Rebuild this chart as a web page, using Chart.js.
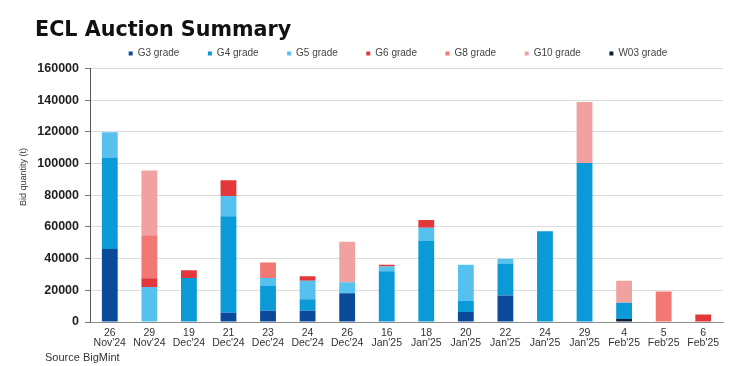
<!DOCTYPE html>
<html>
<head>
<meta charset="utf-8">
<script src="https://cdn.jsdelivr.net/npm/chart.js@4.4.1/dist/chart.umd.min.js"></script>
<style>
  html, body { margin: 0; padding: 0; background: #fff; }
  #wrap { position: relative; width: 750px; height: 366px; overflow: hidden; }
  #c { position: absolute; left: 0; top: 0; }
  #title { position: absolute; left: 35px; top: 17px; font: bold 20.7px "DejaVu Sans", sans-serif; color: #111; letter-spacing: 0; white-space: nowrap; }
  #source { position: absolute; left: 45px; top: 351px; font: 11px "Liberation Sans", Arial, sans-serif; color: #333; white-space: nowrap; }
  #ytitle { position: absolute; left: 23px; top: 177px; transform: translate(-50%, -50%) rotate(-90deg); font: 9px "Liberation Sans", Arial, sans-serif; color: #333; white-space: nowrap; }
</style>
</head>
<body>
<div id="wrap">
  <canvas id="c" width="750" height="366"></canvas>
  <div id="title">ECL Auction Summary</div>
  <div id="ytitle">Bid quantity (t)</div>
  <div id="source">Source BigMint</div>
</div>
<script>
const days = ['26','29','19','21','23','24','26','16','18','20','22','24','29','4','5','6'];
const months = ["Nov'24","Nov'24","Dec'24","Dec'24","Dec'24","Dec'24","Dec'24","Jan'25","Jan'25","Jan'25","Jan'25","Jan'25","Jan'25","Feb'25","Feb'25","Feb'25"];
const seriesNames = ['G3 grade','G4 grade','G5 grade','G6 grade','G8 grade','G10 grade','W03 grade'];
const g3  = [46000, null, null, 5800, 7100, 7100, 18200, null, null, 6300, 16700, null, null, null, null, null];
const g4  = [57800, null, 27800, 61000, 15700, 7300, null, 32000, 51400, 6900, 20300, 57200, 100300, 10200, null, null];
const g5  = [15900, 22100, null, 12800, 5000, 11700, 6900, 3100, 8100, 22900, 2900, null, null, null, null, null];
const g6  = [null, 5500, 4800, 9800, null, 2700, null, 1000, 4800, null, null, null, null, null, null, 4800];
const g8  = [null, 27100, null, null, 9800, null, null, null, null, null, null, null, null, null, 19200, null];
const g10 = [null, 41000, null, null, null, null, 25500, null, null, null, null, null, 38600, 14000, null, null];
const w03 = [null, null, null, null, null, null, null, null, null, null, null, null, null, 1900, null, null];
const yTicks = [0, 20000, 40000, 60000, 80000, 100000, 120000, 140000, 160000];

const colors = ['#0b4a9b', '#0a9ad8', '#56c1ee', '#e2383a', '#f27873', '#f1a1a0', '#0d1f33'];
const values = [g3, g4, g5, g6, g8, g10, w03];
const stackOrder = [1, 1, 1, 1, 1, 1, 0];

const labels = days.map((d, i) => [d, months[i]]);
const datasets = values.map((v, i) => ({
  label: seriesNames[i],
  data: v,
  backgroundColor: colors[i],
  borderWidth: 0,
  order: stackOrder[i],
  barPercentage: 0.4,
  categoryPercentage: 1.0
}));

const legendShift = {
  id: 'legendShift',
  afterLayout(chart) {
    if (chart.legend) { chart.legend.left += 30; chart.legend.right += 30; }
  }
};

new Chart(document.getElementById('c'), {
  type: 'bar',
  data: { labels, datasets },
  plugins: [legendShift],
  options: {
    responsive: false,
    animation: false,
    devicePixelRatio: 1,
    layout: { padding: { top: 20, left: 13, right: 27, bottom: 0 } },
    plugins: {
      legend: {
        display: true,
        position: 'top',
        align: 'center',
        labels: {
          boxWidth: 4,
          boxHeight: 4,
          padding: 28.5,
          color: '#444',
          font: { family: '"Liberation Sans", Arial, sans-serif', size: 10 },
          sort: (a, b) => a.datasetIndex - b.datasetIndex
        }
      },
      title: { display: false },
      tooltip: { enabled: false }
    },
    scales: {
      x: {
        stacked: true,
        grid: { display: false, drawTicks: false },
        border: { display: true, color: '#8c8c8c', width: 1 },
        ticks: {
          color: '#333',
          padding: 6,
          maxRotation: 0,
          autoSkip: false,
          font: { family: '"Liberation Sans", Arial, sans-serif', size: 10.5, lineHeight: 0.95 }
        },
        afterFit: (s) => { s.height = 44; }
      },
      y: {
        stacked: true,
        min: 0,
        max: 160000,
        afterBuildTicks: (s) => { s.ticks = yTicks.map(v => ({ value: v })); },
        grid: { color: '#dcdcdc', lineWidth: 1, drawTicks: true, tickLength: 5, tickColor: '#777' },
        border: { display: true, color: '#555', width: 1 },
        ticks: {
          color: '#222',
          padding: 6,
          callback: (v) => String(v),
          font: { family: '"Liberation Sans", Arial, sans-serif', size: 12.5, weight: 'bold' }
        },
        title: { display: false },
        afterFit: (s) => { s.width = 77; }
      }
    }
  }
});
</script>
</body>
</html>
